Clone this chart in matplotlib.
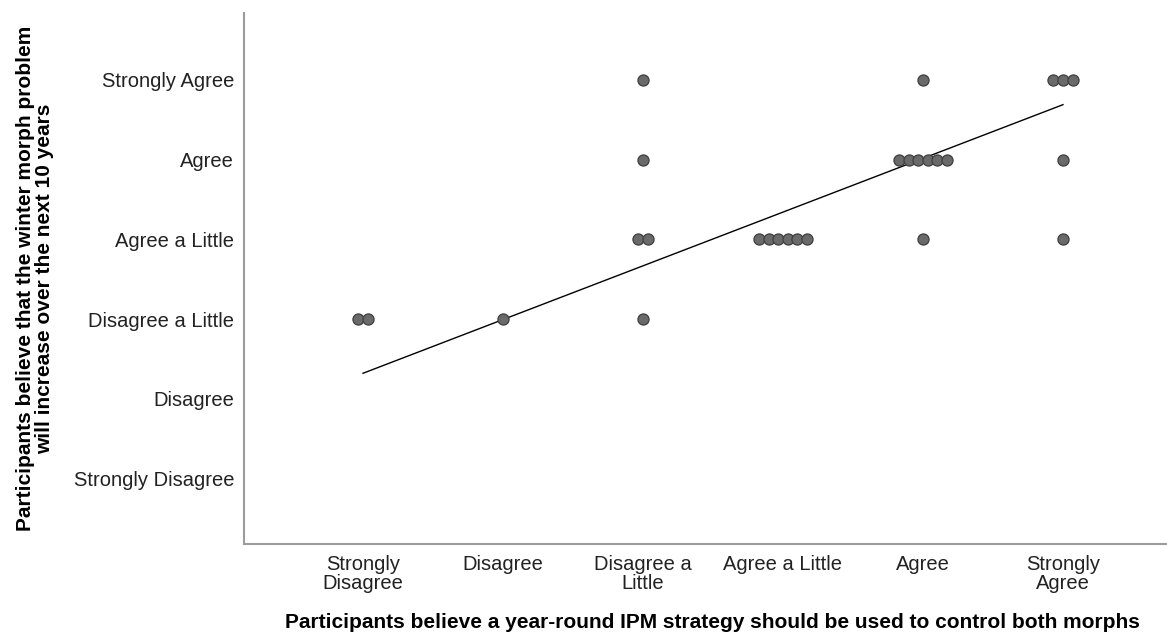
import numpy as np
import matplotlib
matplotlib.use("Agg")
import matplotlib.pyplot as plt

plt.rcParams["font.family"] = ["Liberation Sans", "DejaVu Sans"]

# Likert categories (1 = Strongly Disagree ... 6 = Strongly Agree)
X_CATS = ["Strongly\nDisagree", "Disagree", "Disagree a\nLittle", "Agree a Little", "Agree", "Strongly\nAgree"]
Y_CATS = ["Strongly Disagree", "Disagree", "Disagree a Little", "Agree a Little", "Agree", "Strongly Agree"]

# response pairs and how many participants gave each pair
x_resp = [1, 2, 3, 3, 3, 3, 4, 5, 5, 5, 6, 6, 6]
y_resp = [3, 3, 6, 5, 4, 3, 4, 6, 5, 4, 6, 5, 4]
counts = [2, 1, 1, 1, 2, 1, 6, 1, 6, 1, 3, 1, 1]

# fit line as drawn in the original output
fit_x = [1, 6]
fit_y = [2.32, 5.69]

XLABEL = "Participants believe a year-round IPM strategy should be used to control both morphs"
YLABEL = "Participants believe that the winter morph problem\nwill increase over the next 10 years"

STEP = 0.068  # horizontal spacing of stacked dots, in x units


def main():
    fig = plt.figure(figsize=(11.67, 6.35), dpi=100)
    ax = fig.add_axes([244 / 1167, 1 - 544 / 635, 1 - 244 / 1167, (544 - 13) / 635])

    px, py = [], []
    for x, y, n in zip(x_resp, y_resp, counts):
        for k in range(n):
            px.append(x + (k - (n - 1) / 2) * STEP)
            py.append(y)
    ax.plot(px, py, linestyle="none", marker="o", markersize=8,
            markerfacecolor="#6a6a6a", markeredgecolor="#3f3f3f", markeredgewidth=0.9, zorder=3)

    ax.plot(fit_x, fit_y, color="black", linewidth=1.0, zorder=2)

    ax.set_xlim(0.15, 6.743)
    ax.set_ylim(0.178, 6.84)
    ax.set_xticks(range(1, 7))
    ax.set_xticklabels(X_CATS, fontsize=14.5, color="#222222", linespacing=1.0)
    ax.set_yticks(range(1, 7))
    ax.set_yticklabels(Y_CATS, fontsize=14.5, color="#222222")
    ax.tick_params(axis="y", length=0, pad=7)
    ax.tick_params(axis="x", length=0, pad=8)

    for s in ["top", "right"]:
        ax.spines[s].set_visible(False)
    for s in ["left", "bottom"]:
        ax.spines[s].set_color("#9c9c9c")
        ax.spines[s].set_linewidth(1.5)

    ax.set_xlabel(XLABEL, fontsize=15, fontweight="bold", labelpad=14)
    ax.xaxis.label.set_x(0.508)
    ax.set_ylabel(YLABEL, fontsize=15, fontweight="bold", linespacing=1.0)
    ax.yaxis.set_label_coords(-0.206, 0.5)

    fig.savefig("out.png", dpi=100)
    plt.close(fig)


if __name__ == "__main__":
    main()
